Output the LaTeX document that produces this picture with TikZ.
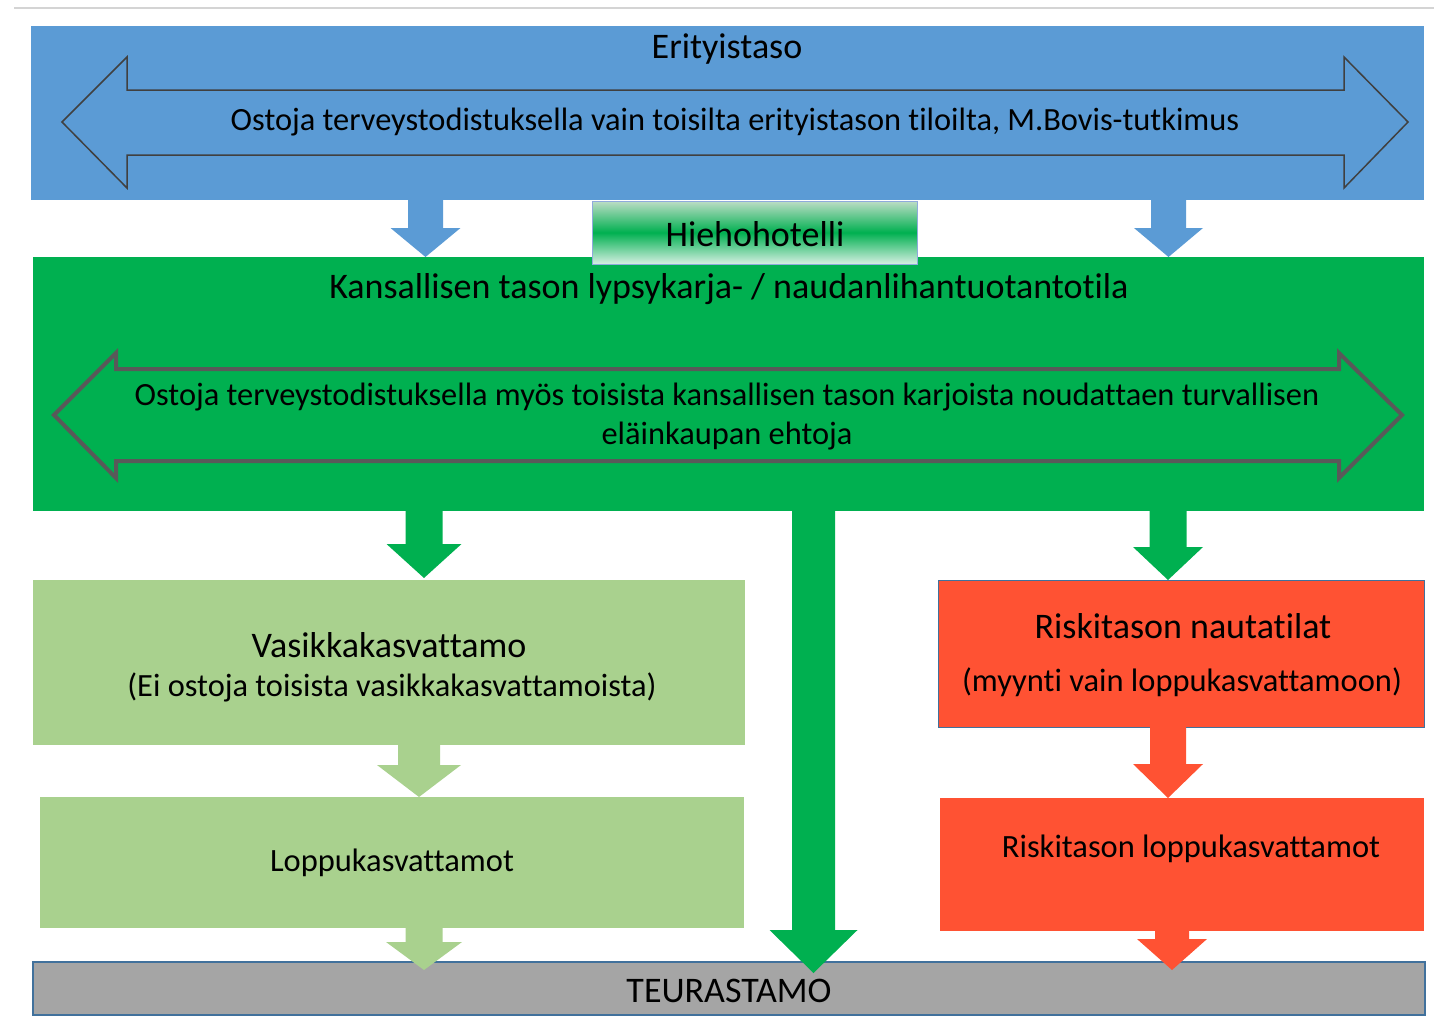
\documentclass[tikz,border=0pt]{standalone}
\usepackage{fontspec}
\setmainfont{Carlito}[Ligatures={NoCommon}]
\usetikzlibrary{calc}
\definecolor{blueC}{HTML}{5B9BD5}
\definecolor{greenC}{HTML}{00B050}
\definecolor{lgreenC}{HTML}{A9D18E}
\definecolor{redC}{HTML}{FF5233}
\definecolor{grayC}{HTML}{A5A5A5}
\definecolor{borderC}{HTML}{41719C}
\definecolor{hbC}{HTML}{8FAADC}
\definecolor{lineC}{HTML}{D4D4D4}
\definecolor{outBlue}{HTML}{404040}
\definecolor{outGreen}{HTML}{595959}
\definecolor{hTop}{HTML}{BDDDC6}
\definecolor{hBot}{HTML}{D6EFE2}
% #1 colour, #2 x, #3 from node, #4 to node, #5 shaft half width, #6 head half width, #7 head length, #8 overshoot
\newcommand\blockarrow[8]{%
  \fill[#1] let \p1=(#3.south), \p2=(#4.north) in
    (#2-#5,\y1) -- (#2+#5,\y1) -- (#2+#5,\y2+#7pt-#8pt) -- (#2+#6,\y2+#7pt-#8pt)
    -- (#2,\y2-#8pt) -- (#2-#6,\y2+#7pt-#8pt) -- (#2-#5,\y2+#7pt-#8pt) -- cycle;}
\begin{document}
\begin{tikzpicture}[x=1pt,y=-1pt,
  box/.style={rectangle, anchor=north west, inner sep=0pt, outer sep=0pt},
  big/.style={font=\fontsize{36}{43}\selectfont},
  mid/.style={font=\fontsize{32.5}{39}\selectfont},
  small/.style={font=\fontsize{32.4}{39}\selectfont}]
\useasboundingbox (0,0) rectangle (1434,1017);
\draw[lineC, line width=1.5pt] (14,8) -- (1434,8);

% boxes
\node[box, fill=blueC, minimum width=1393pt, minimum height=174pt] (ery) at (31,26) {};
\node[box, fill=greenC, minimum width=1391pt, minimum height=254pt] (kans) at (33,257) {};
\node[box, fill=lgreenC, minimum width=712pt, minimum height=165pt] (vasi) at (33,580) {};
\node[box, fill=lgreenC, minimum width=704pt, minimum height=131pt] (loppu) at (40,797) {};
\node[box, fill=redC, draw=borderC, line width=1pt, minimum width=486pt, minimum height=147pt] (risk) at (938,580) {};
\node[box, fill=redC, minimum width=484pt, minimum height=133pt] (risklop) at (940,798) {};
\node[box, fill=grayC, draw=borderC, line width=2pt, minimum width=1392pt, minimum height=53pt] (teur) at (33,962) {};
\node[box, top color=hTop, bottom color=hBot, middle color=greenC, draw=hbC, line width=1pt, minimum width=325pt, minimum height=63pt] (hieho) at (592,201) {};

% double arrows
\draw[outBlue, line width=1.5pt, line join=miter] (62,122) -- (127,57) -- (127,90) -- (1344,90) -- (1344,57) -- (1408,122)
  -- (1344,188) -- (1344,155) -- (127,155) -- (127,188) -- cycle;
\draw[outGreen, line width=4pt, line join=miter] (54,415) -- (116,353) -- (116,369) -- (1339,369) -- (1339,353) -- (1402,415)
  -- (1339,478) -- (1339,461) -- (116,461) -- (116,478) -- cycle;

% texts
\node[big] (t-ery) at (727,49) {Erityistaso};
\node[small] (t-ery2) at (735,122) {Ostoja terveystodistuksella vain toisilta erityistason tiloilta, M.Bovis-tutkimus};
\node[big] (t-hieho) at (755,234) {Hiehohotelli};
\node[big] (t-kans) at (729,289) {Kansallisen tason lypsykarja- / naudanlihantuotantotila};
\node[small, align=center] (t-kans2) at (727,417) {Ostoja terveystodistuksella myös toisista kansallisen tason karjoista noudattaen turvallisen\\eläinkaupan ehtoja};
\node[big] (t-vasi) at (389,645) {Vasikkakasvattamo};
\node[small] (t-vasi2) at (392,687) {(Ei ostoja toisista vasikkakasvattamoista)};
\node[mid] (t-loppu) at (392,863) {Loppukasvattamot};
\node[big] (t-risk) at (1183,626) {Riskitason nautatilat};
\node[mid] (t-risk2) at (1182,682) {(myynti vain loppukasvattamoon)};
\node[mid] (t-risklop) at (1191,849) {Riskitason loppukasvattamot};
\node[big] (t-teur) at (729,991) {TEURASTAMO};

% block arrows
\blockarrow{blueC}{425.5}{ery}{kans}{17.5}{35}{29}{0}
\blockarrow{blueC}{1168.5}{ery}{kans}{17.5}{34.5}{29}{0}
\blockarrow{greenC}{424}{kans}{vasi}{18.5}{37.5}{34}{-2}
\blockarrow{greenC}{1168}{kans}{risk}{18.5}{35}{33}{0}
\blockarrow{greenC}{813.5}{kans}{teur}{21.5}{44}{43}{11}
\blockarrow{lgreenC}{419}{vasi}{loppu}{21}{42}{32}{0}
\blockarrow{lgreenC}{424}{loppu}{teur}{18.5}{38}{28}{8}
\blockarrow{redC}{1168}{risk}{risklop}{18}{35}{34}{0}
\blockarrow{redC}{1172}{risklop}{teur}{17}{35}{31}{8}
\end{tikzpicture}
\end{document}
